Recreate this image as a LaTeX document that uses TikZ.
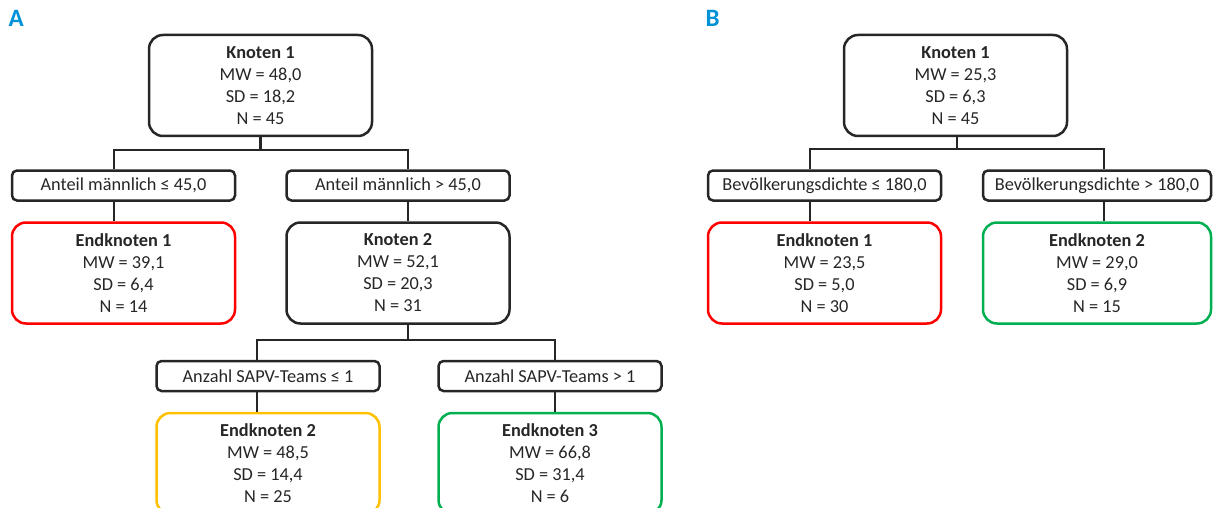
\documentclass[tikz,border=0pt]{standalone}
\usepackage{fontspec}
\setmainfont{Carlito}
\definecolor{dk}{RGB}{38,38,38}
\definecolor{lblue}{RGB}{0,146,214}
\definecolor{ered}{RGB}{255,0,0}
\definecolor{eyel}{RGB}{255,192,0}
\definecolor{egrn}{RGB}{0,176,80}
\tikzset{
  bigbox/.style={draw=dk, line width=2.5pt, rounded corners=14pt, minimum width=223pt, minimum height=101pt, align=center, inner sep=0pt, text=dk, font=\fontsize{18.3}{22}\selectfont},
  condbox/.style={draw=dk, line width=2.5pt, rounded corners=5pt, minimum width=223pt, minimum height=30pt, align=center, inner sep=0pt, text=dk, font=\fontsize{18.3}{22}\selectfont},
  conn/.style={draw=dk, line width=2.2pt},
  panel/.style={text=lblue, font=\fontsize{25}{28}\selectfont\bfseries, inner sep=0pt, anchor=north west},
}
\begin{document}
\begin{tikzpicture}[x=1pt,y=-1pt]
\useasboundingbox (0,0) rectangle (1215,508);
% Panel labels
\node[panel] (la) at (8.5,10.5) {A};
\node[panel] (lb) at (705.5,10.5) {B};
% Panel A
\node[bigbox] (k1) at (260.5,85.5) {\textbf{Knoten 1}\\MW = 48,0\\SD = 18,2\\N = 45};
\node[condbox] (c1) at (123.5,185.5) {Anteil männlich ≤ 45,0};
\node[condbox] (c2) at (398,185.5) {Anteil männlich > 45,0};
\node[bigbox, draw=ered] (e1) at (123.5,273) {\textbf{Endknoten 1}\\MW = 39,1\\SD = 6,4\\N = 14};
\node[bigbox] (k2) at (398,273) {\textbf{Knoten 2}\\MW = 52,1\\SD = 20,3\\N = 31};
\node[condbox] (c3) at (268,376) {Anzahl SAPV-Teams ≤ 1};
\node[condbox] (c4) at (550,376) {Anzahl SAPV-Teams > 1};
\node[bigbox, draw=eyel] (e2) at (268,463.5) {\textbf{Endknoten 2}\\MW = 48,5\\SD = 14,4\\N = 25};
\node[bigbox, draw=egrn] (e3) at (550,463.5) {\textbf{Endknoten 3}\\MW = 66,8\\SD = 31,4\\N = 6};
% Panel B
\node[bigbox] (k1b) at (955.5,85.5) {\textbf{Knoten 1}\\MW = 25,3\\SD = 6,3\\N = 45};
\node[condbox, minimum width=233pt] (c5) at (824.5,185.5) {Bevölkerungsdichte ≤ 180,0};
\node[condbox, minimum width=228pt] (c6) at (1097,185.5) {Bevölkerungsdichte > 180,0};
\node[bigbox, draw=ered, minimum width=233pt] (e1b) at (824.5,273) {\textbf{Endknoten 1}\\MW = 23,5\\SD = 5,0\\N = 30};
\node[bigbox, draw=egrn, minimum width=228pt] (e2b) at (1097,273) {\textbf{Endknoten 2}\\MW = 29,0\\SD = 6,9\\N = 15};
% junction coordinates
\coordinate (a1l) at (114,150);
\coordinate (a1r) at (408,150);
\coordinate (a2l) at (257,340);
\coordinate (a2r) at (555,340);
\coordinate (b1l) at (810,149);
\coordinate (b1r) at (1104,149);
\coordinate (b1m) at (957,149);
% Connectors panel A
\draw[conn] (k1.south) -- (k1.south |- a1l);
\draw[conn] (a1l |- c1.north) -- (a1l) -- (a1r) -- (a1r |- c2.north);
\draw[conn] (a1l |- c1.south) -- (a1l |- e1.north);
\draw[conn] (a1r |- c2.south) -- (a1r |- k2.north);
\draw[conn] (a1r |- k2.south) -- (a1r |- a2l);
\draw[conn] (a2l |- c3.north) -- (a2l) -- (a2r) -- (a2r |- c4.north);
\draw[conn] (a2l |- c3.south) -- (a2l |- e2.north);
\draw[conn] (a2r |- c4.south) -- (a2r |- e3.north);
% Connectors panel B
\draw[conn] (b1m |- k1b.south) -- (b1m);
\draw[conn] (b1l |- c5.north) -- (b1l) -- (b1r) -- (b1r |- c6.north);
\draw[conn] (b1l |- c5.south) -- (b1l |- e1b.north);
\draw[conn] (b1r |- c6.south) -- (b1r |- e2b.north);
\end{tikzpicture}
\end{document}
